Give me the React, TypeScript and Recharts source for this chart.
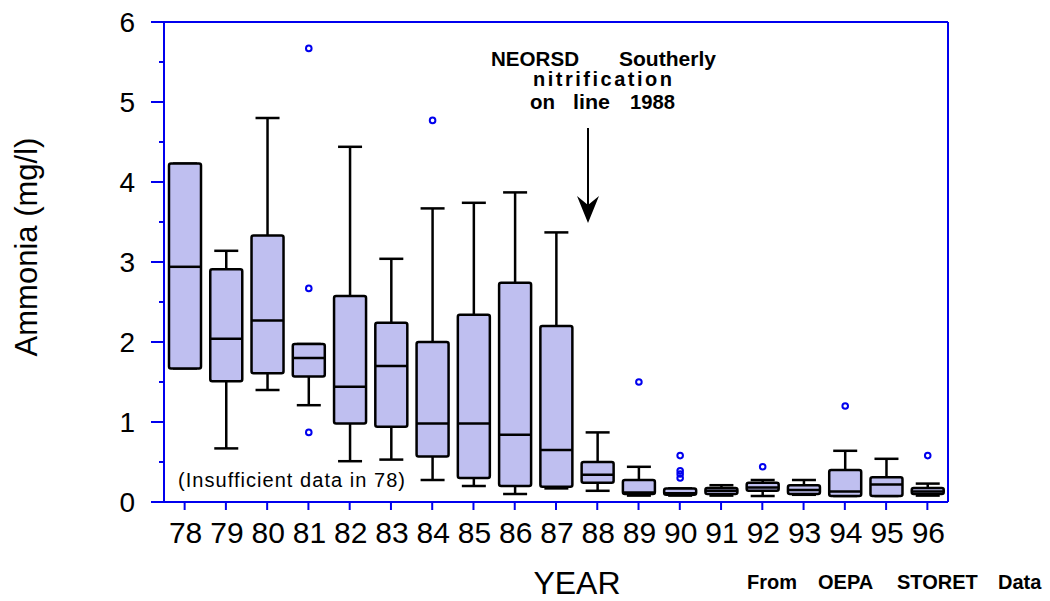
import React from 'react';
import { ComposedChart, Bar, XAxis, YAxis } from 'recharts';

// Annual ammonia concentration summaries (mg/l), one box per year
const years = ['78', '79', '80', '81', '82', '83', '84', '85', '86', '87', '88', '89', '90', '91', '92', '93', '94', '95', '96'];
const whiskerLow = [1.67, 0.67, 1.4, 1.21, 0.51, 0.53, 0.275, 0.2, 0.1, 0.17, 0.14, 0.08, 0.08, 0.08, 0.075, 0.09, 0.075, 0.075, 0.08];
const quartile1 = [1.67, 1.51, 1.61, 1.57, 0.98, 0.94, 0.57, 0.3, 0.2, 0.19, 0.24, 0.1, 0.09, 0.1, 0.14, 0.1, 0.075, 0.075, 0.1];
const medians = [2.94, 2.04, 2.27, 1.8, 1.44, 1.7, 0.98, 0.98, 0.84, 0.65, 0.34, 0.12, 0.11, 0.14, 0.18, 0.15, 0.13, 0.22, 0.13];
const quartile3 = [4.23, 2.91, 3.33, 1.975, 2.575, 2.24, 2.0, 2.34, 2.74, 2.2, 0.5, 0.275, 0.17, 0.175, 0.24, 0.21, 0.4, 0.31, 0.175];
const whiskerHigh = [4.23, 3.14, 4.8, 1.975, 4.44, 3.04, 3.67, 3.74, 3.87, 3.37, 0.87, 0.44, 0.17, 0.21, 0.275, 0.275, 0.64, 0.54, 0.23];
const outliers: number[][] = [
  [], [], [], [5.67, 2.67, 0.87], [], [], [4.77], [], [], [], [],
  [1.5], [0.58, 0.39, 0.35, 0.3], [], [0.44], [], [1.2], [], [0.58],
];
const yTicks = [0, 0.5, 1, 1.5, 2, 2.5, 3, 3.5, 4, 4.5, 5, 5.5, 6];

const rows = years.map((year, i) => ({
  year,
  span: [whiskerLow[i], whiskerHigh[i]],
  lo: whiskerLow[i],
  q1: quartile1[i],
  med: medians[i],
  q3: quartile3[i],
  hi: whiskerHigh[i],
  out: outliers[i],
}));

const BLUE = '#0000ee';
const FILL = '#bfbff0';
const FONT = '"Liberation Sans", Arial, Helvetica, sans-serif';
const SW = 2.5;

// Draws one box-and-whisker glyph; the bar's span (whisker range) sets the value-to-pixel mapping.
const BoxShape = (props: any) => {
  const { x, y, width, height, index } = props;
  const d = props.payload && props.payload.q1 !== undefined ? props.payload : rows[index];
  const py = (v: number) => y + (height * (d.hi - v)) / (d.hi - d.lo);
  const cx = x + width / 2;
  const capHalf = 12;
  const top = py(d.q3);
  const bottom = py(d.q1);
  return (
    <g>
      <line x1={cx} x2={cx} y1={py(d.hi)} y2={top} stroke="#000" strokeWidth={SW} />
      <line x1={cx} x2={cx} y1={bottom} y2={py(d.lo)} stroke="#000" strokeWidth={SW} />
      <line x1={cx - capHalf} x2={cx + capHalf} y1={py(d.hi)} y2={py(d.hi)} stroke="#000" strokeWidth={SW} />
      <line x1={cx - capHalf} x2={cx + capHalf} y1={py(d.lo)} y2={py(d.lo)} stroke="#000" strokeWidth={SW} />
      <rect x={x} y={top} width={width} height={Math.max(bottom - top, 0.5)} rx={2} ry={2} fill={FILL} stroke="#000" strokeWidth={SW} />
      <line x1={x} x2={x + width} y1={py(d.med)} y2={py(d.med)} stroke="#000" strokeWidth={SW} />
      {d.out.map((v: number, k: number) => (
        <circle key={k} cx={cx} cy={py(v)} r={2.8} fill="none" stroke={BLUE} strokeWidth={2} />
      ))}
    </g>
  );
};

const YTick = (props: any) => {
  const { x, y, payload } = props;
  const v = payload.value;
  const major = Number.isInteger(v);
  return (
    <g>
      <line x1={x - (major ? 13 : 5)} x2={x} y1={y} y2={y} stroke={BLUE} strokeWidth={2} />
      {major && (
        <text x={x - 29} y={y} dy="0.36em" textAnchor="end" fontSize={28} fontFamily={FONT} fill="#000">
          {v}
        </text>
      )}
    </g>
  );
};

const XTick = (props: any) => {
  const { x, y, payload } = props;
  return (
    <text x={x + 1} y={y} dy={33} textAnchor="middle" fontSize={30} fontFamily={FONT} fill="#000">
      {payload.value}
    </text>
  );
};

export default function App() {
  return (
    <div style={{ position: 'relative', width: 1050, height: 601, background: '#fff' }}>
      <style>{'body{margin:0;}'}</style>
      <ComposedChart
        width={1050}
        height={601}
        data={rows}
        margin={{ top: 20, right: 100, bottom: 59, left: 104 }}
      >
        <XAxis
          dataKey="year"
          type="category"
          interval={0}
          height={40}
          axisLine={{ stroke: BLUE, strokeWidth: 2 }}
          tickLine={{ stroke: BLUE, strokeWidth: 2 }}
          tickSize={8}
          tickMargin={0}
          tick={<XTick />}
        />
        <XAxis
          xAxisId="top"
          dataKey="year"
          orientation="top"
          height={2}
          tick={false}
          tickLine={false}
          axisLine={{ stroke: BLUE, strokeWidth: 2 }}
        />
        <YAxis
          type="number"
          domain={[0, 6]}
          ticks={yTicks}
          interval={0}
          width={60}
          tickSize={0}
          tickMargin={0}
          tickLine={false}
          axisLine={{ stroke: BLUE, strokeWidth: 2 }}
          tick={<YTick />}
        />
        <YAxis
          yAxisId="right"
          orientation="right"
          type="number"
          domain={[0, 6]}
          width={2}
          tick={false}
          tickLine={false}
          axisLine={{ stroke: BLUE, strokeWidth: 2 }}
        />
        <Bar dataKey="span" barSize={32} isAnimationActive={false} shape={<BoxShape />} />
      </ComposedChart>
      <svg
        width={1050}
        height={601}
        style={{ position: 'absolute', left: 0, top: 0, pointerEvents: 'none' }}
        fontFamily={FONT}
      >
        <text transform="translate(37,247) rotate(-90)" textAnchor="middle" fontSize={31} fill="#000">
          Ammonia (mg/l)
        </text>
        <text x={577} y={594} textAnchor="middle" fontSize={32} fill="#000">
          YEAR
        </text>
        <g fontWeight="bold" fontSize={20} fill="#000">
          <text x={747} y={589}>From</text>
          <text x={818} y={589}>OEPA</text>
          <text x={897} y={589}>STORET</text>
          <text x={998} y={589}>Data</text>
        </g>
        <g fontWeight="bold" fontSize={20} fill="#000">
          <text x={491} y={66} textLength={88} lengthAdjust="spacingAndGlyphs">NEORSD</text>
          <text x={619} y={66} textLength={97} lengthAdjust="spacingAndGlyphs">Southerly</text>
          <text x={533} y={86} textLength={139} lengthAdjust="spacing">nitrification</text>
          <text x={530} y={109} textLength={25} lengthAdjust="spacingAndGlyphs">on</text>
          <text x={573} y={109} textLength={37} lengthAdjust="spacingAndGlyphs">line</text>
          <text x={630} y={109} textLength={45} lengthAdjust="spacingAndGlyphs">1988</text>
        </g>
        <line x1={588} x2={588} y1={128} y2={206} stroke="#000" strokeWidth={2} />
        <polygon points="577,196 588,205 599,196 588,223" fill="#000" />
        <text x={178} y={487} fontSize={20} fill="#000" textLength={227} lengthAdjust="spacing">
          (Insufficient data in 78)
        </text>
      </svg>
    </div>
  );
}
